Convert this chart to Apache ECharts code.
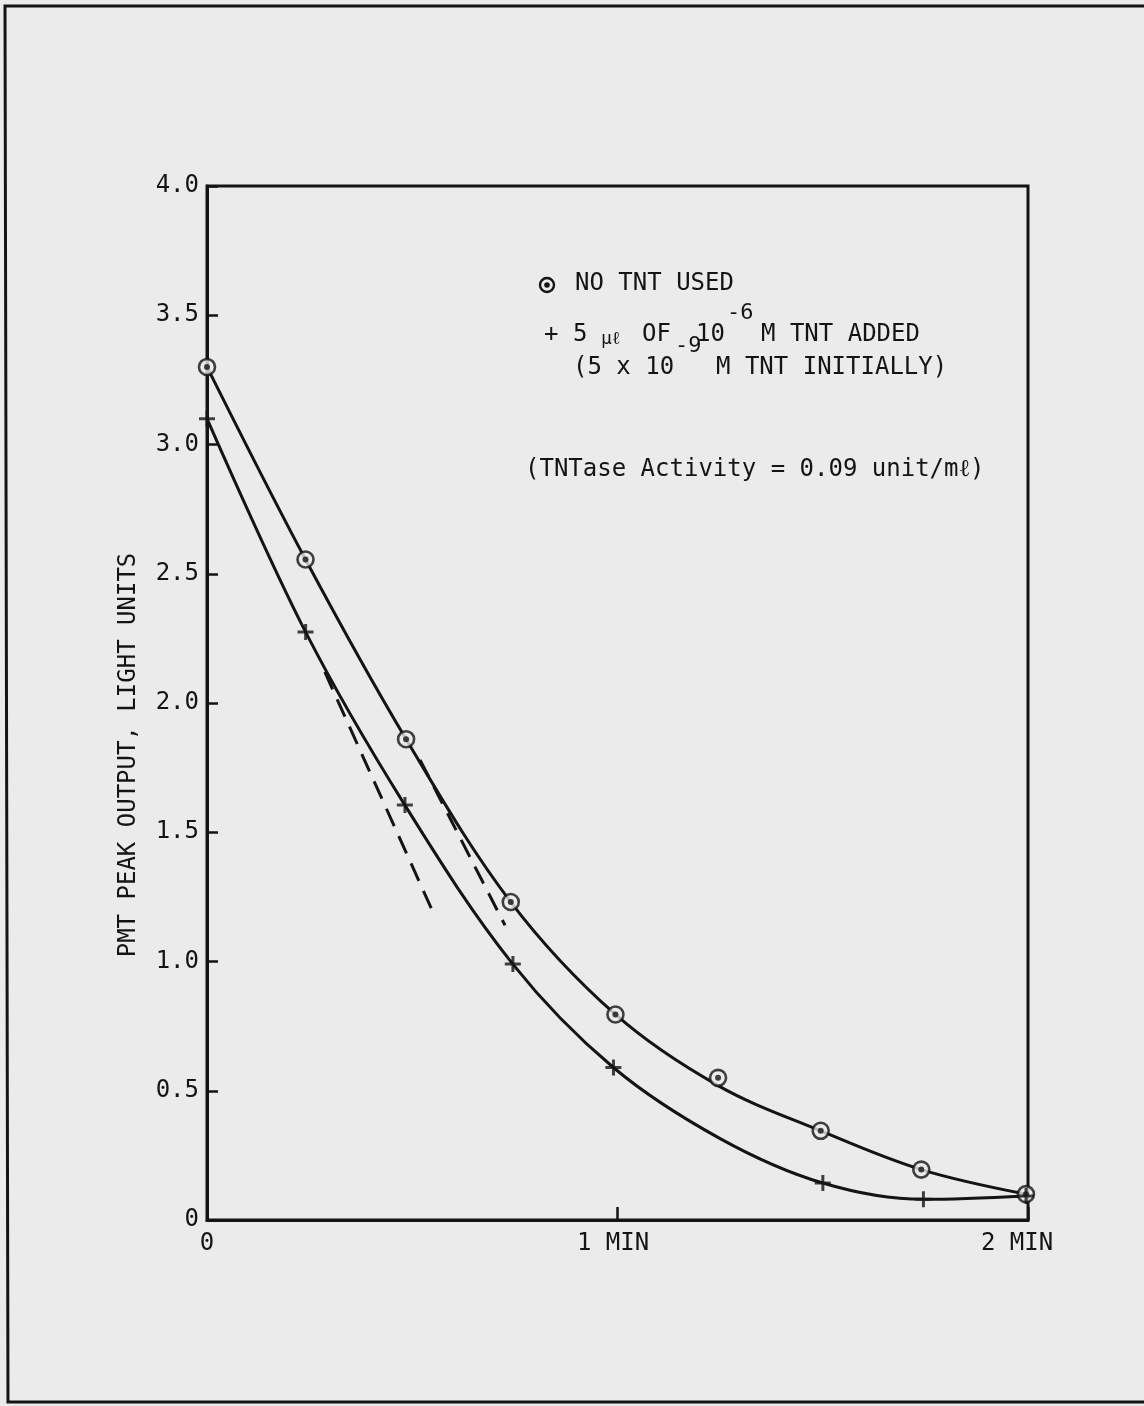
<!DOCTYPE html>
<html>
<head>
<meta charset="utf-8">
<script src="https://cdn.jsdelivr.net/npm/echarts@6/dist/echarts.min.js"></script>
<style>
html,body{margin:0;padding:0;background:#ebebeb;}
#c{width:1144px;height:1406px;}
</style>
</head>
<body>
<div id="c"></div>
<script>
// ---- data ----
const yTicks = [0, 0.5, 1.0, 1.5, 2.0, 2.5, 3.0, 3.5, 4.0];
const xTickLabels = ['0', '1 MIN', '2 MIN'];

// "NO TNT USED" (circled dot markers): time (min), light units
const noTntX = [0, 0.24, 0.485, 0.74, 0.995, 1.245, 1.495, 1.74, 1.995];
const noTntY = [3.30, 2.555, 1.86, 1.23, 0.795, 0.55, 0.345, 0.195, 0.10];

// "+ 5 µl of 1e-6 M TNT added" (plus markers)
const tntX = [0, 0.24, 0.482, 0.745, 0.99, 1.50, 1.745, 1.995];
const tntY = [3.10, 2.275, 1.605, 0.99, 0.59, 0.143, 0.08, 0.093];

// hand-drawn smooth curves
const noTntCurveX = [0, 0.24, 0.485, 0.74, 0.995, 1.245, 1.495, 1.74, 1.995];
const noTntCurveY = [3.30, 2.555, 1.86, 1.23, 0.795, 0.52, 0.345, 0.195, 0.10];
const tntCurveX = [0, 0.24, 0.482, 0.745, 0.99, 1.25, 1.50, 1.745, 1.995];
const tntCurveY = [3.10, 2.275, 1.605, 0.99, 0.59, 0.315, 0.143, 0.08, 0.093];

// dashed initial-slope tangents
const tangentAX = [0.287, 0.548];
const tangentAY = [2.12, 1.20];
const tangentBX = [0.519, 0.726];
const tangentBY = [1.78, 1.14];

const zip = (xs, ys) => xs.map((x, i) => [x, ys[i]]);
const INK = '#141414';
const BG = '#ebebeb';
const FONT = '"DejaVu Sans Mono", monospace';

const chart = echarts.init(document.getElementById('c'), null, {renderer: 'canvas'});
chart.setOption({
  backgroundColor: BG,
  animation: false,
  grid: {left: 207, right: 116, top: 186, bottom: 186, show: true,
         borderColor: INK, borderWidth: 3, backgroundColor: 'transparent'},
  xAxis: {
    type: 'value', min: 0, max: 2, interval: 1,
    axisLine: {show: true, lineStyle: {color: INK, width: 3}},
    axisTick: {show: true, inside: true, length: 13, lineStyle: {color: INK, width: 2.5}},
    splitLine: {show: false},
    axisLabel: {color: INK, fontFamily: FONT, fontSize: 24, margin: 12,
                formatter: v => {
                  const i = Math.round(v);
                  return i === 0 ? xTickLabels[0] : '{s' + i + '|' + xTickLabels[i] + '}';
                },
                rich: {s1: {fontFamily: FONT, fontSize: 24, color: INK, padding: [0, 9, 0, 0]},
                       s2: {fontFamily: FONT, fontSize: 24, color: INK, padding: [0, 22, 0, 0]}}}
  },
  yAxis: {
    type: 'value', min: 0, max: 4, interval: 0.5,
    axisLine: {show: true, lineStyle: {color: INK, width: 3}},
    axisTick: {show: true, inside: true, length: 11, lineStyle: {color: INK, width: 2.5}},
    splitLine: {show: false},
    axisLabel: {color: INK, fontFamily: FONT, fontSize: 24, margin: 8,
                formatter: v => (v === 0 ? '0' : yTicks.find(t => Math.abs(t - v) < 1e-9).toFixed(1))}
  },
  series: [
    {type: 'line', data: zip(noTntCurveX, noTntCurveY), smooth: 0.35, showSymbol: false,
     lineStyle: {color: INK, width: 3}, z: 2, silent: true},
    {type: 'line', data: zip(tntCurveX, tntCurveY), smooth: 0.35, showSymbol: false,
     lineStyle: {color: INK, width: 3}, z: 2, silent: true},
    {type: 'line', data: zip(tangentAX, tangentAY), showSymbol: false,
     lineStyle: {color: INK, width: 3, type: [19, 11]}, z: 2, silent: true},
    {type: 'line', data: zip(tangentBX, tangentBY), showSymbol: false,
     lineStyle: {color: INK, width: 3, type: [19, 11]}, z: 2, silent: true},
    {type: 'scatter', data: zip(noTntX, noTntY), symbol: 'circle', symbolSize: 16, clip: false,
     itemStyle: {color: BG, borderColor: INK, borderWidth: 2.6}, z: 3, silent: true},
    {type: 'scatter', data: zip(noTntX, noTntY), symbol: 'circle', symbolSize: 6, clip: false,
     itemStyle: {color: INK}, z: 4, silent: true},
    {type: 'scatter', data: zip(tntX, tntY), symbol: 'path://M6.6,0h3v16h-3zM0,6.5h16v3h-16z',
     symbolSize: 16, clip: false, itemStyle: {color: INK}, z: 4, silent: true}
  ],
  graphic: [
    {type: 'polyline', shape: {points: [[1144, 6], [5, 6], [8, 1402], [1144, 1402]]},
     style: {stroke: INK, lineWidth: 3, fill: null}, silent: true},
    {type: 'text', x: 129, y: 755, rotation: Math.PI / 2,
     style: {text: 'PMT PEAK OUTPUT, LIGHT UNITS', font: '24px ' + FONT, fill: INK,
             align: 'center', verticalAlign: 'middle'}},
    {type: 'circle', shape: {cx: 547, cy: 285, r: 7}, style: {stroke: INK, lineWidth: 2.4, fill: null}},
    {type: 'circle', shape: {cx: 547, cy: 285, r: 2.8}, style: {fill: INK}},
    {type: 'text', x: 575, y: 284, style: {text: 'NO TNT USED', font: '24px ' + FONT, fill: INK, verticalAlign: 'middle'}},
    {type: 'text', x: 544, y: 335, style: {text: '+ 5', font: '24px ' + FONT, fill: INK, verticalAlign: 'middle'}},
    {type: 'text', x: 601, y: 339, style: {text: 'µℓ', font: '18px ' + FONT, fill: INK, verticalAlign: 'middle'}},
    {type: 'text', x: 642, y: 335, style: {text: 'OF', font: '24px ' + FONT, fill: INK, verticalAlign: 'middle'}},
    {type: 'text', x: 696, y: 335, style: {text: '10', font: '24px ' + FONT, fill: INK, verticalAlign: 'middle'}},
    {type: 'text', x: 727, y: 313, style: {text: '-6', font: '22px ' + FONT, fill: INK, verticalAlign: 'middle'}},
    {type: 'text', x: 761, y: 335, style: {text: 'M TNT ADDED', font: '24px ' + FONT, fill: INK, verticalAlign: 'middle'}},
    {type: 'text', x: 573, y: 368, style: {text: '(5 x 10', font: '24px ' + FONT, fill: INK, verticalAlign: 'middle'}},
    {type: 'text', x: 675, y: 346, style: {text: '-9', font: '22px ' + FONT, fill: INK, verticalAlign: 'middle'}},
    {type: 'text', x: 716, y: 368, style: {text: 'M TNT INITIALLY)', font: '24px ' + FONT, fill: INK, verticalAlign: 'middle'}},
    {type: 'text', x: 525, y: 470, style: {text: '(TNTase Activity = 0.09 unit/mℓ)', font: '24px ' + FONT, fill: INK, verticalAlign: 'middle'}}
  ]
});
</script>
</body>
</html>
